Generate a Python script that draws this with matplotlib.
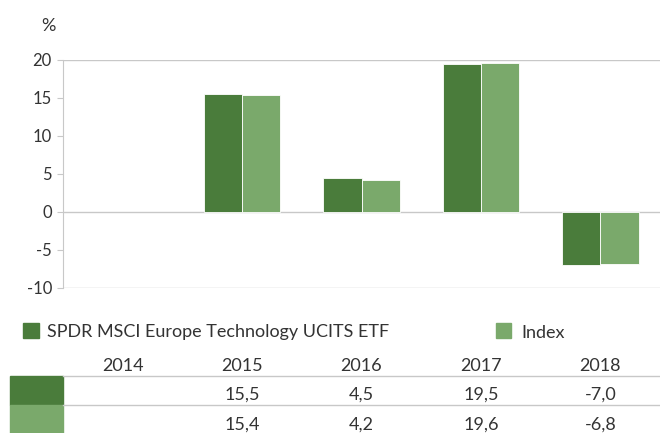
import matplotlib
matplotlib.use("Agg")
import matplotlib.pyplot as plt
from matplotlib.transforms import blended_transform_factory
from matplotlib.patches import Rectangle
from matplotlib.lines import Line2D
import numpy as np

years = ["2014", "2015", "2016", "2017", "2018"]
fund = [np.nan, 15.5, 4.5, 19.5, -7.0]
index = [np.nan, 15.4, 4.2, 19.6, -6.8]
fund_labels = ["", "15,5", "4,5", "19,5", "-7,0"]
index_labels = ["", "15,4", "4,2", "19,6", "-6,8"]
series_names = ["SPDR MSCI Europe Technology UCITS ETF", "Index"]
yticks = [-10, -5, 0, 5, 10, 15, 20]

c_dark = "#4A7C3B"
c_light = "#7AA96B"
grid_c = "#C8C8C8"
txt_c = "#333333"

plt.rcParams['font.family'] = ['Lato', 'DejaVu Sans']

W, H = 660, 433
fig = plt.figure(figsize=(W / 100, H / 100), dpi=100)

def fx(px):
    return px / W

def fy(py):
    return 1 - py / H

ax = fig.add_axes([fx(63), fy(288), fx(660) - fx(63), fy(60) - fy(288)])
x = np.arange(len(years))
bw = 0.32
ax.bar(x - bw / 2, fund, bw, color=c_dark, edgecolor="white", linewidth=0.6)
ax.bar(x + bw / 2, index, bw, color=c_light, edgecolor="white", linewidth=0.6)
ax.set_xlim(-0.5, len(years) - 0.5)
ax.set_ylim(-10, 20)
ax.set_yticks(yticks)
ax.set_yticklabels([str(v) for v in yticks], fontsize=12, color=txt_c)
ax.set_xticks([])
for s in ["right", "bottom", "top"]:
    ax.spines[s].set_visible(False)
ax.spines["left"].set_color(grid_c)
ax.tick_params(axis="y", color=grid_c, length=4, pad=4)
for v in [20, 0, -10]:
    ax.axhline(v, color=grid_c, linewidth=1, zorder=0.5)

fs = 13
fig.text(fx(41), fy(31), "%", fontsize=fs, color=txt_c, va="baseline", ha="left")

# legend
fig.add_artist(Rectangle((fx(23), fy(338)), fx(39) - fx(23), fy(323) - fy(338), color=c_dark, transform=fig.transFigure))
fig.text(fx(47), fy(337.5), series_names[0], fontsize=fs, color=txt_c, va="baseline", ha="left")
fig.add_artist(Rectangle((fx(496), fy(338)), fx(511) - fx(496), fy(323) - fy(338), color=c_light, transform=fig.transFigure))
fig.text(fx(521), fy(337.5), series_names[1], fontsize=fs, color=txt_c, va="baseline", ha="left")

# table
tr = blended_transform_factory(ax.transData, fig.transFigure)
for i, yr in enumerate(years):
    fig.text(i, fy(371), yr, transform=tr, fontsize=fs, color=txt_c, ha="center", va="baseline")
    fig.text(i, fy(400), fund_labels[i], transform=tr, fontsize=fs, color=txt_c, ha="center", va="baseline")
    fig.text(i, fy(429.5), index_labels[i], transform=tr, fontsize=fs, color=txt_c, ha="center", va="baseline")

fig.add_artist(Rectangle((fx(10), fy(405)), fx(63) - fx(10), fy(376) - fy(405), color=c_dark, transform=fig.transFigure))
fig.add_artist(Rectangle((fx(10), fy(433)), fx(63) - fx(10), fy(405) - fy(433), color=c_light, transform=fig.transFigure))
for py in [376, 405]:
    fig.add_artist(Line2D([fx(63), fx(660)], [fy(py), fy(py)], color=grid_c, linewidth=1, transform=fig.transFigure))

fig.savefig("out.png", dpi=100, facecolor="white")
